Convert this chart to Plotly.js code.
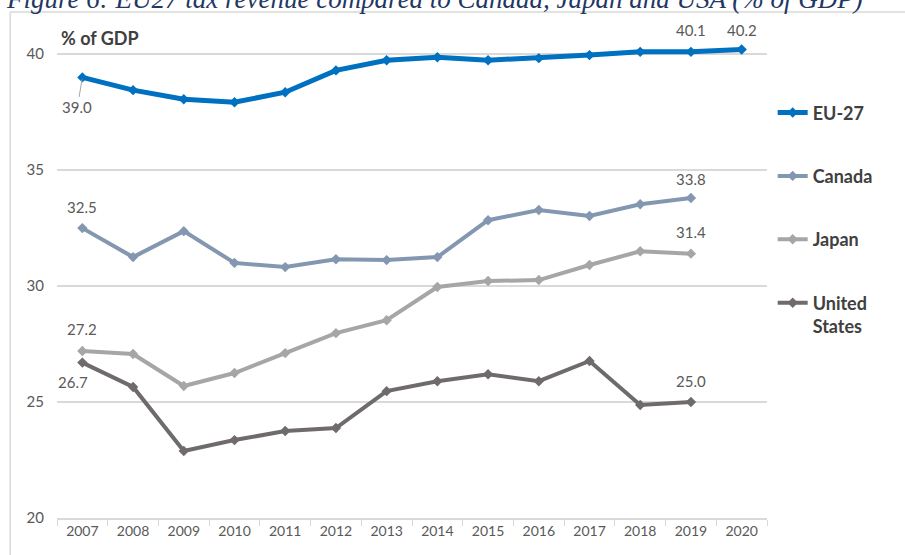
<!DOCTYPE html>
<html>
<head>
<meta charset="utf-8">
<script src="https://cdn.plot.ly/plotly-3.0.1.min.js"></script>
<style>html,body{margin:0;padding:0;background:#fff;}#chart{width:905px;height:555px;}</style>
</head>
<body>
<div id="chart"></div>
<script>
const years = ['2007','2008','2009','2010','2011','2012','2013','2014','2015','2016','2017','2018','2019','2020'];
const eu27 = [39.0, 38.45, 38.06, 37.93, 38.36, 39.3, 39.74, 39.87, 39.74, 39.83, 39.96, 40.1, 40.1, 40.2];
const canada = [32.5, 31.25, 32.37, 31.0, 30.82, 31.16, 31.12, 31.25, 32.84, 33.28, 33.02, 33.53, 33.8];
const japan = [27.2, 27.07, 25.69, 26.25, 27.11, 27.97, 28.53, 29.96, 30.22, 30.26, 30.91, 31.5, 31.4];
const usa = [26.7, 25.65, 22.89, 23.36, 23.75, 23.88, 25.47, 25.9, 26.2, 25.9, 26.77, 24.87, 25.0];
const seriesNames = ['EU-27', 'Canada', 'Japan', 'United<br>States'];
const yTicks = [20, 25, 30, 35, 40];

const colors = ['#0070C0', '#8497B0', '#A6A6A6', '#6F6B6B'];
const widths = [5, 4, 4, 4];
const data = [eu27, canada, japan, usa].map((vals, i) => ({
  type: 'scatter', mode: 'lines+markers',
  x: years.slice(0, vals.length), y: vals,
  name: seriesNames[i], legendgroup: 'g' + i,
  line: {color: colors[i], width: widths[i]},
  marker: {symbol: 'diamond', size: 8, color: colors[i]},
  cliponaxis: false
}));

function lab(series, idx, xs, ys, extra) {
  return Object.assign({
    x: idx, y: series[idx], xref: 'x', yref: 'y',
    text: series[idx].toFixed(1), showarrow: false,
    xshift: xs, yshift: ys,
    font: {family: 'Lato, sans-serif', size: 15, color: '#595959'}
  }, extra || {});
}
const annotations = [
  lab(eu27, 0, 0, 0, {showarrow: true, arrowhead: 0, arrowwidth: 1, arrowcolor: '#A6A6A6', ax: -5, ay: 30, standoff: 2}),
  lab(eu27, 12, 0, 22),
  lab(eu27, 13, 0, 20),
  lab(canada, 0, 0, 21),
  lab(canada, 12, 0, 19),
  lab(japan, 0, 0, 22),
  lab(japan, 12, 0, 22),
  lab(usa, 0, -9, -19),
  lab(usa, 12, 0, 21),
  {text: '% of GDP', xref: 'paper', yref: 'paper', x: 0.003, y: 0.9856, xanchor: 'left', yanchor: 'middle', showarrow: false,
   font: {family: 'Lato, sans-serif', size: 18, color: '#404040', weight: 'bold'}},
  {text: '<i>Figure 6: EU27 tax revenue compared to Canada, Japan and USA (% of GDP)</i>', xref: 'paper', yref: 'paper',
   x: -0.0746, y: 1.0667, xanchor: 'left', yanchor: 'middle', showarrow: false,
   font: {family: 'Liberation Serif, serif', size: 27, color: '#1F3864'}}
];

const layout = {
  width: 905, height: 555,
  margin: {l: 57, r: 138, t: 31, b: 37},
  paper_bgcolor: '#fff', plot_bgcolor: '#fff',
  showlegend: true,
  legend: {x: 1.008, y: 0.87, xanchor: 'left', yanchor: 'top', traceorder: 'grouped', tracegroupgap: 37, valign: 'top',
           font: {family: 'Lato, sans-serif', size: 18, color: '#404040', weight: 'bold'}, bgcolor: 'rgba(0,0,0,0)'},
  xaxis: {type: 'category', range: [-0.5, 13.5], showline: true, linecolor: '#D9D9D9', linewidth: 1.5,
          ticks: 'outside', tickson: 'boundaries', ticklen: 6, tickcolor: '#D9D9D9', showgrid: false,
          tickfont: {family: 'Lato, sans-serif', size: 14, color: '#595959'}, fixedrange: true},
  yaxis: {range: [20, 41], tickvals: yTicks, ticktext: yTicks.map(String), showgrid: true, gridcolor: '#D9D9D9', gridwidth: 1.5,
          zeroline: false, showline: false, ticks: '', ticklabelstandoff: 12,
          tickfont: {family: 'Lato, sans-serif', size: 15, color: '#595959'}},
  annotations: annotations,
  shapes: [
    {type: 'line', xref: 'paper', yref: 'paper', x0: -0.066, x1: -0.066, y0: 1.039, y1: -0.1, line: {color: '#D9D9D9', width: 1.5}},
    {type: 'line', xref: 'paper', yref: 'paper', x0: -0.066, x1: 1.2, y0: 1.039, y1: 1.039, line: {color: '#D9D9D9', width: 1.5}}
  ]
};
Plotly.newPlot('chart', data, layout, {displayModeBar: false, staticPlot: true});
</script>
</body>
</html>
